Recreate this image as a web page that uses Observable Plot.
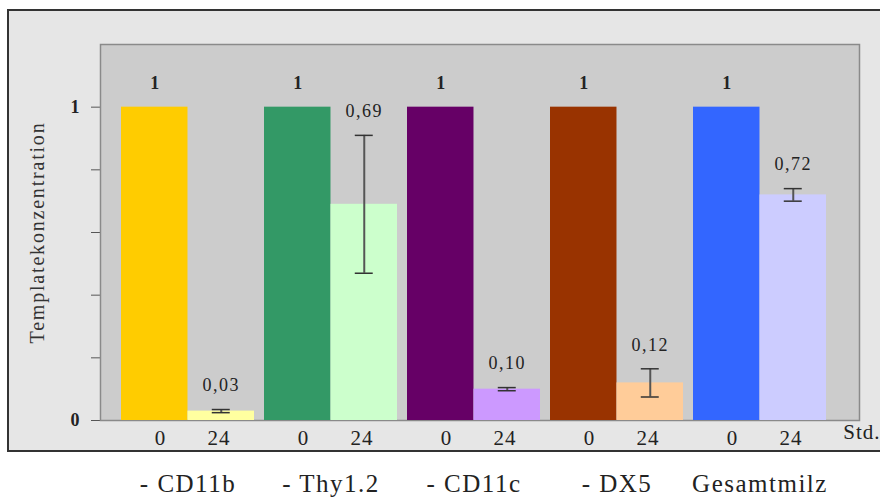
<!DOCTYPE html>
<html>
<head>
<meta charset="utf-8">
<script src="https://cdn.jsdelivr.net/npm/d3@7"></script>
<script src="https://cdn.jsdelivr.net/npm/@observablehq/plot@0.6"></script>
<style>
  html, body { margin: 0; padding: 0; background: #ffffff; width: 880px; height: 499px; overflow: hidden; }
  #box { position: absolute; left: 7px; top: 9px; width: 900px; height: 439px;
         background: #e6e6e6; border: 2px solid #333; }
  #chart { position: absolute; left: 0; top: 0; }
</style>
</head>
<body>
<div id="box"></div>
<div id="chart"></div>
<script>
// ---- data ----
const groups = ["- CD11b", "- Thy1.2", "- CD11c", "- DX5", "Gesamtmilz"];
const times = ["0", "24"];
const values0 = [1, 1, 1, 1, 1];
const values24 = [0.03, 0.69, 0.10, 0.12, 0.72];
const errors24 = [0.005, 0.22, 0.005, 0.045, 0.02];
const labels0 = ["1", "1", "1", "1", "1"];
const labels24 = ["0,03", "0,69", "0,10", "0,12", "0,72"];
const yTicks = [0, 0.2, 0.4, 0.6, 0.8, 1];
const yTickLabels = [{v: 0, t: "0"}, {v: 1, t: "1"}];
const unitLabel = "Std.";
const yLabel = "Templatekonzentration";

// palette (style)
const colors0 = ["#ffcc00", "#339966", "#660066", "#993300", "#3366ff"];
const colors24 = ["#ffffa0", "#ccffcc", "#cc99ff", "#ffcc99", "#ccccff"];

// ---- tables ----
const bars0 = groups.map((g, i) => ({group: g, time: times[0], v: values0[i], e: 0, label: labels0[i], color: colors0[i]}));
const bars24 = groups.map((g, i) => ({group: g, time: times[1], v: values24[i], e: errors24[i], label: labels24[i], color: colors24[i]}));

// ---- layout ----
const W = 880, H = 499, mL = 100, mR = 21, mT = 44, mB = 79;
const pIn = 0.073, pOut = 0.181;
const step = (W - mL - mR) / (groups.length - pIn + 2 * pOut);
const bw = step * (1 - pIn);
const half = bw / 2, q = bw / 4, capHalf = 9;
const serif = "'Liberation Serif', 'DejaVu Serif', serif";

const plot = Plot.plot({
  width: W, height: H,
  marginLeft: mL, marginRight: mR, marginTop: mT, marginBottom: mB,
  style: {fontFamily: serif, fontSize: "17px", color: "#555", background: "transparent"},
  x: {domain: groups, paddingInner: pIn, paddingOuter: pOut, align: 0.39, axis: null},
  y: {domain: [0, 1.2], ticks: yTicks, tickFormat: () => "", tickSize: 9, tickPadding: 0, label: null},
  color: {type: "identity"},
  marks: [
    Plot.frame({fill: "#cccccc", stroke: "#8a8a8a", strokeWidth: 1.5}),
    Plot.barY(bars0, {x: "group", y: "v", fill: "color", insetRight: half}),
    Plot.barY(bars24, {x: "group", y: "v", fill: "color", insetLeft: half}),
    Plot.ruleX(bars24, {x: "group", y1: d => d.v - d.e, y2: d => d.v + d.e, dx: q, stroke: "#555", strokeWidth: 2}),
    Plot.tickY(bars24, {x: "group", y: d => d.v + d.e, insetLeft: half + q - capHalf, insetRight: q - capHalf, stroke: "#333", strokeWidth: 1.5}),
    Plot.tickY(bars24, {x: "group", y: d => d.v - d.e, insetLeft: half + q - capHalf, insetRight: q - capHalf, stroke: "#333", strokeWidth: 1.5}),
    Plot.text(yTickLabels, {y: "v", text: "t", frameAnchor: "left", textAnchor: "end", dx: -21, fontSize: 18, fontWeight: "bold", fill: "#222"}),
    Plot.text(bars0, {x: "group", y: d => d.v + d.e, text: "label", dx: -q, dy: -24, fontSize: 18, fontWeight: "bold", fill: "#222"}),
    Plot.text(bars24, {x: "group", y: d => d.v + d.e, text: "label", dx: q, dy: -24, fontSize: 18, fill: "#222"}),
    Plot.text(bars0, {x: "group", y: 0, text: "time", dx: -28, dy: 18, fontSize: 21, fill: "#222"}),
    Plot.text(bars24, {x: "group", y: 0, text: "time", dx: 31, dy: 18, fontSize: 21, fill: "#222"}),
    Plot.text([unitLabel], {frameAnchor: "bottom-right", textAnchor: "end", dx: 21, dy: 18, fontSize: 21, fill: "#222"}),
    Plot.text(groups, {x: d => d, y: 0, text: d => d, dy: 63, fontSize: 25, fill: "#222"}),
    Plot.text([yLabel], {frameAnchor: "left", textAnchor: "middle", rotate: -90, dx: -63, fontSize: 20, fill: "#333"})
  ]
});

// typographic letter-spacing (style only)
d3.select(plot).selectAll("text").each(function () {
  const t = this.textContent;
  if (groups.includes(t)) this.style.letterSpacing = "1.5px";
  else if (labels24.includes(t)) this.style.letterSpacing = "1.5px";
  else if (t === yLabel) this.style.letterSpacing = "1.8px";
  else if (t === "24" || t === unitLabel) this.style.letterSpacing = "1px";
});
document.getElementById("chart").appendChild(plot);
</script>
</body>
</html>
